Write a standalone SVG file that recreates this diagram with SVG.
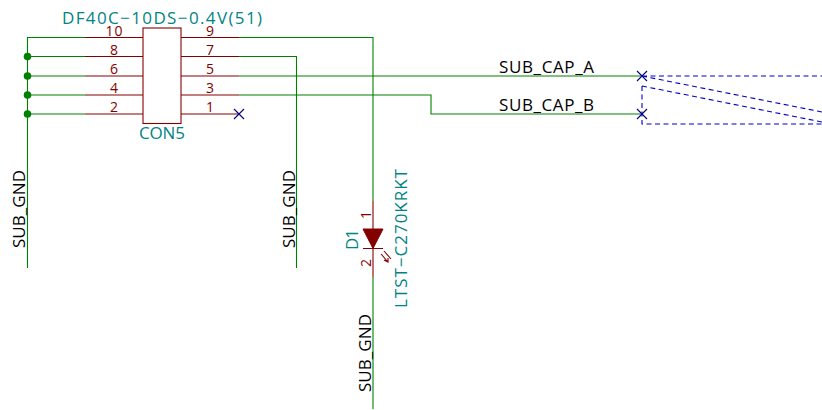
<svg xmlns="http://www.w3.org/2000/svg" width="822" height="410" viewBox="0 0 822 410">
<style>
text{font-family:"Open Sans","Liberation Sans",sans-serif;font-size:17px;font-weight:400}
.w{fill:none;stroke:#008000;stroke-width:1.1}
.p{fill:none;stroke:#840000;stroke-width:1.1}
.nc{fill:none;stroke:#000084;stroke-width:1.1}
.b{fill:none;stroke:#0000c8;stroke-width:1.1;stroke-dasharray:5 3.5}
.n{fill:#840000;text-anchor:middle;font-size:14px}
.t{fill:#008484}
.l{fill:#000}
.j{fill:#008000}
</style>
<rect width="822" height="410" fill="#fff"/>
<g id="connectors">
<path class="w" d="M85 37.500H27.500V268M85 56.500H27.500M85 76H27.500M85 95H27.500M85 114H27.500"/>
<path class="w" d="M239 37.500H373V201M239 56.500H296.500V268M239 76H642M239 95H431V114H642M373 277V409"/>
<circle class="j" cx="27.500" cy="56.500" r="3.800"/>
<circle class="j" cx="27.500" cy="76" r="3.800"/>
<circle class="j" cx="27.500" cy="95" r="3.800"/>
<circle class="j" cx="27.500" cy="114" r="3.800"/>
</g>
<g id="CON5">
<rect class="p" x="143" y="28" width="38" height="95.500"/>
<path class="p" d="M85 37.500H143M85 56.500H143M85 76H143M85 95H143M85 114H143M181 37.500H239M181 56.500H239M181 76H239M181 95H239M181 114H239"/>
<text class="t" x="62" y="24" textLength="200">DF40C−10DS−0.4V(51)</text>
<text class="t" x="139" y="139" textLength="46">CON5</text>
<text class="n" x="114" y="36" textLength="17">10</text><text class="n" x="114" y="55">8</text><text class="n" x="114" y="74">6</text><text class="n" x="114" y="93">4</text><text class="n" x="114" y="112">2</text>
<text class="n" x="210" y="36">9</text><text class="n" x="210" y="55">7</text><text class="n" x="210" y="74">5</text><text class="n" x="210" y="93">3</text><text class="n" x="210" y="112">1</text>
</g>
<g id="nc1"><path class="nc" d="M234 109L244 119M244 109L234 119"/></g>
<g id="D1">
<path class="p" d="M373 201V277M363 248.500H383"/>
<path d="M363 229H383L373 248.500Z" fill="#840000" stroke="#840000"/>
<path class="p" d="M381 254L388 262M388 258V262L384 260M384 251L391 259" stroke-width="1"/>
<text class="n" transform="translate(371 215) rotate(-90)">1</text>
<text class="n" transform="translate(371 263) rotate(-90)">2</text>
<text class="t" transform="translate(358 250) rotate(-90)" textLength="21">D1</text>
<text class="t" transform="translate(407 308) rotate(-90)" textLength="139">LTST−C270KRKT</text>
</g>
<g id="labels">
<text class="l" x="499" y="73" textLength="95">SUB_CAP_A</text>
<text class="l" x="499" y="111" textLength="95">SUB_CAP_B</text>
<text class="l" transform="translate(25 248) rotate(-90)" textLength="78">SUB_GND</text>
<text class="l" transform="translate(295 248) rotate(-90)" textLength="78">SUB_GND</text>
<text class="l" transform="translate(371 392) rotate(-90)" textLength="78">SUB_GND</text>
</g>
<g id="sheet">
<path class="b" d="M642 76H822M642 76L822 112M642 86L822 122M642 86V124H822"/>
<path class="nc" d="M637 71L647 81M647 71L637 81M637 109L647 119M647 109L637 119"/>
</g>
</svg>
